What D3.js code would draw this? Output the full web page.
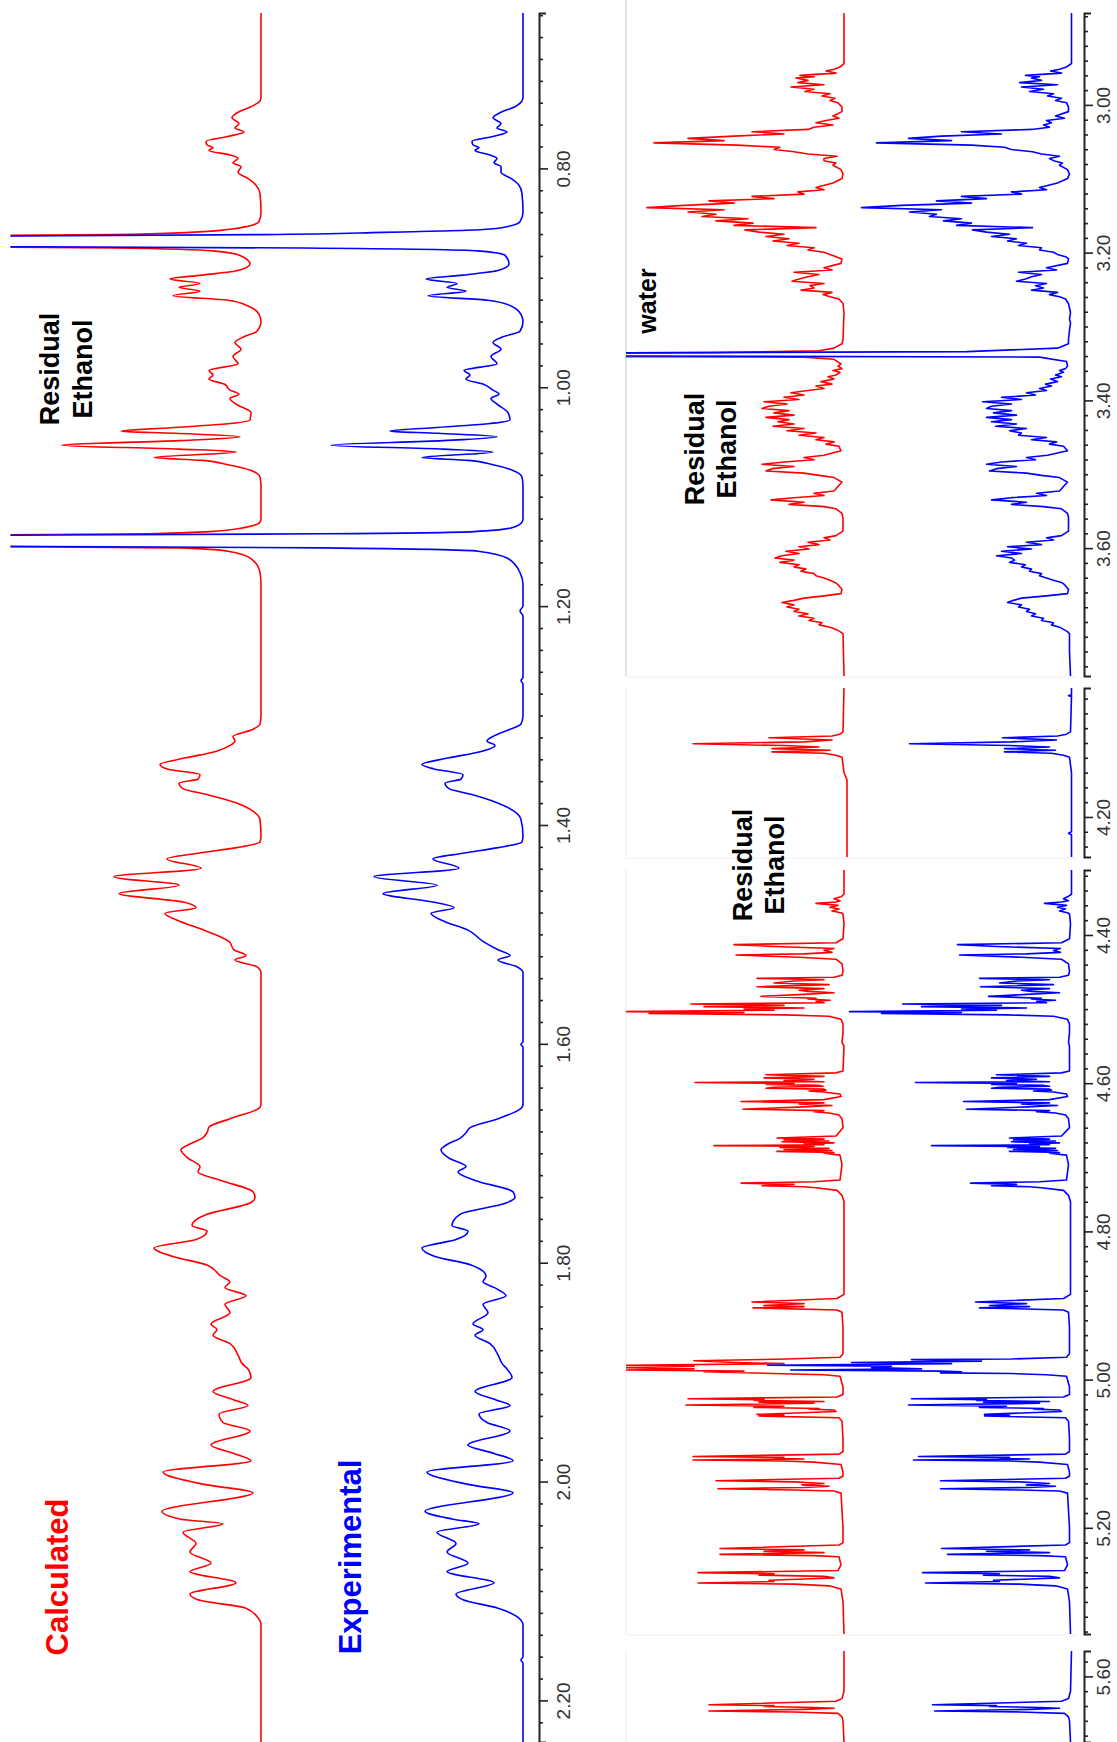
<!DOCTYPE html>
<html><head><meta charset="utf-8">
<script src="https://cdn.jsdelivr.net/npm/d3@7"></script>
<style>body{margin:0;background:#fff}svg{display:block}</style>
</head><body>
<svg id="c" width="1117" height="1742"></svg>
<script>
// ---------------- DATA (ppm, relative intensity) ----------------
const leftDomain = [0.658, 2.238];
const segDomains = [[2.8756, 3.7731], [4.0257, 4.2541], [4.3123, 5.3433], [5.5657, 5.6886]];
const leftTicks = [0.80, 1.00, 1.20, 1.40, 1.60, 1.80, 2.00, 2.20];
const segTicks = [[3.00, 3.20, 3.40, 3.60], [4.20], [4.40, 4.60, 4.80, 5.00, 5.20], [5.60]];
const seriesNames = ["Calculated", "Experimental"];
const annotations = ["Residual", "Ethanol", "water"];

const calcL = [[0.658,0],[0.735,0],[0.7384,1],[0.7436,10],[0.7487,23],[0.7538,29],[0.759,22],[0.7631,26],[0.7667,17],[0.7708,33],[0.7754,55],[0.7785,54],[0.781,48],[0.7836,52],[0.7877,31],[0.7908,23],[0.7949,28],[0.7985,20],[0.8036,23],[0.8092,13],[0.8154,5],[0.8231,1],[0.84,0],
[0.8487,2],[0.8528,13],[0.8559,33],[0.8585,71],[0.8605,147],[0.8626,450],[0.8646,900],[0.869,900],[0.8708,450],[0.8728,147],[0.8754,48],[0.8795,21],[0.8872,11],[0.8934,23],[0.8975,59],[0.9011,91],[0.9052,61],[0.9087,82],[0.9123,61],[0.9164,88],[0.9205,33],[0.9257,13],[0.9334,2],[0.94,0],
[0.9488,4],[0.9539,17],[0.959,26],[0.9652,20],[0.9718,28],[0.9785,23],[0.9847,52],[0.9888,48],[0.9924,52],[0.9975,36],[1.0026,31],[1.0062,22],[1.0103,31],[1.0154,25],[1.0231,10],[1.0298,11],[1.0334,33],[1.037,90],[1.0401,140],[1.0421,86],[1.0452,21],[1.0488,82],[1.0529,199],[1.0565,82],[1.0591,25],[1.0642,107],[1.0668,59],[1.0708,33],[1.076,10],[1.0821,1],[1.09,0],
[1.12,0],[1.1232,1],[1.1283,17],[1.1319,52],[1.1339,113],[1.136,450],[1.138,900],[1.1427,900],[1.1447,450],[1.1468,82],[1.1498,33],[1.1565,10],[1.1693,1],[1.18,0],
[1.30,0],[1.3078,1],[1.3129,9],[1.3191,28],[1.3232,26],[1.3273,31],[1.3335,48],[1.3386,75],[1.3448,101],[1.3488,94],[1.354,61],[1.3581,63],[1.3617,82],[1.3668,78],[1.372,55],[1.3797,25],[1.3874,8],[1.3951,1],[1.41,0],
[1.4155,1],[1.4207,24],[1.4258,63],[1.431,94],[1.4395,60],[1.4473,147],[1.455,82],[1.4627,142],[1.4704,78],[1.4756,65],[1.4807,96],[1.4884,80],[1.4961,57],[1.5064,32],[1.5141,27],[1.5193,15],[1.5234,26],[1.5296,4],[1.535,0],
[1.655,0],[1.6581,1],[1.6684,31],[1.6761,52],[1.6812,54],[1.6864,59],[1.6915,71],[1.6967,80],[1.7044,73],[1.7121,61],[1.7172,63],[1.7249,40],[1.7352,8],[1.7404,6],[1.7455,11],[1.7558,54],[1.7661,69],[1.7712,54],[1.7789,65],[1.7866,107],[1.7943,88],[1.8021,54],[1.8123,40],[1.8175,31],[1.8226,36],[1.8303,15],[1.838,36],[1.8458,31],[1.856,50],[1.8612,44],[1.8663,48],[1.874,31],[1.8843,23],[1.892,19],[1.8972,13],[1.9049,10],[1.9177,48],[1.9254,27],[1.9306,13],[1.9383,42],[1.946,38],[1.9537,11],[1.9666,50],[1.9743,27],[1.981,10],[1.9913,98],[2.0026,57],[2.0103,8],[2.0272,99],[2.0344,80],[2.0386,38],[2.0463,78],[2.0566,65],[2.0643,71],[2.0746,50],[2.0823,71],[2.0925,25],[2.1028,71],[2.108,63],[2.1157,15],[2.1234,4],[2.1311,0],[2.238,0]];

const expL = [[0.658,0],[0.735,0],[0.7384,1],[0.7436,8],[0.7487,22],[0.7538,30],[0.759,22],[0.7631,26],[0.7667,16],[0.7708,30],[0.7754,51],[0.7785,50],[0.781,44],[0.7836,48],[0.7877,33],[0.7908,26],[0.7949,29],[0.7985,22],[0.8036,22],[0.8092,12],[0.8154,4],[0.8231,1],[0.84,0],
[0.8487,3],[0.8528,14],[0.8559,40],[0.8585,140],[0.8605,260],[0.8626,700],[0.8646,1000],[0.869,1000],[0.8708,700],[0.8728,220],[0.8754,45],[0.8795,18],[0.8872,14],[0.8934,25],[0.8975,60],[0.9011,97],[0.9052,66],[0.9087,76],[0.9123,57],[0.9164,95],[0.9205,35],[0.9257,12],[0.9334,2],[0.94,0],
[0.9488,3],[0.9539,20],[0.959,30],[0.9652,22],[0.9718,32],[0.9785,26],[0.9847,59],[0.9888,53],[0.9924,57],[0.9975,39],[1.0026,30],[1.0062,24],[1.0103,32],[1.0154,26],[1.0231,15],[1.0298,13],[1.0334,35],[1.037,90],[1.0401,133],[1.0421,85],[1.0452,26],[1.0488,80],[1.0529,192],[1.0565,80],[1.0591,30],[1.0642,101],[1.0668,55],[1.0708,30],[1.076,10],[1.0821,1],[1.09,0],
[1.12,0],[1.1232,1],[1.1283,11],[1.1319,49],[1.1339,200],[1.136,700],[1.138,1000],[1.1427,1000],[1.1447,700],[1.1468,200],[1.1498,45],[1.1565,15],[1.1693,3],[1.18,0],[1.20,0],[1.2045,3],[1.209,0],[1.265,0],[1.268,2],[1.271,0],
[1.30,0],[1.3078,2],[1.3129,14],[1.3191,30],[1.3232,36],[1.3273,28],[1.3335,45],[1.3386,74],[1.3448,101],[1.3488,89],[1.354,60],[1.3581,62],[1.3617,78],[1.3668,74],[1.372,52],[1.3797,26],[1.3874,9],[1.3951,2],[1.41,0],
[1.4155,1],[1.4207,25],[1.4258,60],[1.431,90],[1.4395,64],[1.4473,149],[1.455,86],[1.4627,140],[1.4704,90],[1.4756,69],[1.4807,92],[1.4884,78],[1.4961,55],[1.5064,40],[1.5141,25],[1.5193,13],[1.5234,25],[1.5296,6],[1.535,0],[1.598,0],[1.6005,2],[1.603,0],
[1.655,0],[1.6581,1],[1.6684,25],[1.6761,52],[1.6812,57],[1.6864,63],[1.6915,75],[1.6967,82],[1.7044,74],[1.7121,57],[1.7172,65],[1.7249,48],[1.7352,10],[1.7404,8],[1.7455,17],[1.7558,63],[1.7661,71],[1.7712,55],[1.7789,67],[1.7866,101],[1.7943,88],[1.8021,52],[1.8123,37],[1.8175,40],[1.8226,29],[1.8303,17],[1.838,40],[1.8458,35],[1.856,50],[1.8612,40],[1.8663,48],[1.874,33],[1.8843,25],[1.892,21],[1.8972,16],[1.9049,11],[1.9177,48],[1.9254,27],[1.9306,13],[1.9383,44],[1.946,36],[1.9537,13],[1.9666,55],[1.9743,29],[1.981,10],[1.9913,96],[2.0026,55],[2.0103,10],[2.0272,98],[2.0344,70],[2.0386,44],[2.0463,86],[2.0566,67],[2.0643,76],[2.0746,55],[2.0823,76],[2.0925,29],[2.1028,67],[2.108,60],[2.1157,25],[2.1234,6],[2.1311,0],[2.16,0],[2.163,2],[2.166,0],[2.238,0]];

const calcS1 = [[2.8756,0],[2.944,0],[2.9486,4],[2.9517,10],[2.954,18],[2.957,8],[2.960,44],[2.962,30],[2.9637,48],[2.9668,36],[2.9698,46],[2.9728,20],[2.9758,53],[2.9789,30],[2.9819,39],[2.9849,14],[2.9879,22],[2.9909,9],[2.994,14],[2.997,6],[3.003,2],[3.0091,2],
[3.0151,11],[3.0181,5],[3.0211,18],[3.0242,28],[3.0272,11],[3.0302,30],[3.0332,36],[3.0363,92],[3.0393,60],[3.0423,110],[3.0453,156],[3.0483,120],[3.0514,190],[3.0544,107],[3.0574,64],[3.0604,70],[3.0634,50],[3.0665,36],[3.0695,7],[3.0725,20],[3.0755,20],[3.0786,8],[3.0816,11],[3.0876,3],[3.0937,1],[3.0997,2],
[3.1057,11],[3.1118,28],[3.1148,20],[3.1178,46],[3.1208,40],[3.1239,92],[3.1269,70],[3.1299,135],[3.133,110],[3.136,160],[3.139,197],[3.142,120],[3.145,156],[3.148,128],[3.151,142],[3.1541,96],[3.157,128],[3.1601,91],[3.1631,110],[3.1662,28],[3.1692,99],[3.1722,85],[3.1752,60],[3.1782,78],[3.1812,55],[3.1843,71],[3.1873,45],[3.1903,57],[3.1934,30],[3.1964,36],[3.1994,20],[3.2024,14],[3.2055,8],[3.2085,2],
[3.2145,3],[3.2205,20],[3.2236,12],[3.2266,50],[3.2296,25],[3.2326,36],[3.2357,45],[3.2387,52],[3.2417,20],[3.2447,34],[3.2478,30],[3.2508,43],[3.2538,12],[3.2568,21],[3.2598,14],[3.2628,5],[3.2689,1],[3.281,0],
[3.3172,1],[3.3233,2],[3.3293,10],[3.3329,25],[3.3353,135],[3.3371,600],[3.3395,600],[3.3414,40],[3.3444,10],[3.3505,3],
[3.3535,6],[3.357,2],[3.3596,11],[3.362,4],[3.3656,8],[3.368,16],[3.371,10],[3.3746,23],[3.378,12],[3.3806,28],[3.384,20],[3.3867,36],[3.3897,53],[3.3928,40],[3.3958,60],[3.3988,45],[3.4018,80],[3.4048,57],[3.4079,75],[3.4109,82],[3.4139,55],[3.4169,70],[3.4199,50],[3.423,78],[3.426,55],[3.429,66],[3.432,50],[3.435,71],[3.4381,40],[3.4411,57],[3.4441,28],[3.4472,45],[3.4502,20],[3.4532,28],[3.4562,10],[3.4592,18],[3.4622,5],[3.4683,3],
[3.4743,20],[3.4773,40],[3.4804,30],[3.4834,60],[3.4864,82],[3.4894,50],[3.4924,72],[3.4955,78],[3.4985,40],[3.5015,25],[3.5045,10],[3.5106,2],
[3.5227,10],[3.5257,30],[3.5287,20],[3.5317,50],[3.5347,73],[3.5378,40],[3.5408,55],[3.5438,20],[3.5468,8],[3.5529,2],[3.5589,1],[3.577,1],
[3.5831,8],[3.5861,20],[3.5891,14],[3.5921,36],[3.5952,25],[3.5982,45],[3.6012,35],[3.6042,58],[3.6073,45],[3.6103,62],[3.6133,69],[3.6163,50],[3.6193,64],[3.6224,45],[3.6254,50],[3.6284,38],[3.6314,43],[3.6345,30],[3.6375,28],[3.6405,20],[3.6435,14],[3.6465,9],[3.6495,6],[3.6556,2],[3.6616,3],
[3.6646,20],[3.6677,40],[3.6707,50],[3.6737,62],[3.6768,50],[3.6798,57],[3.6828,45],[3.6858,50],[3.6888,36],[3.6918,45],[3.6949,30],[3.6979,35],[3.7009,22],[3.7039,25],[3.707,14],[3.71,8],[3.713,4],[3.716,1],[3.7731,0]];

const expS1 = [[2.8756,0],[2.944,0],[2.9486,5],[2.9517,12],[2.954,21],[2.957,10],[2.960,46],[2.962,32],[2.9637,40],[2.9668,30],[2.9698,52],[2.9728,14],[2.9758,50],[2.9789,28],[2.9819,42],[2.9849,18],[2.9879,24],[2.9909,10],[2.994,16],[2.997,5],[3.003,3],[3.0091,3],
[3.0151,16],[3.0181,7],[3.0211,25],[3.0242,20],[3.0272,28],[3.0302,22],[3.0332,40],[3.0363,110],[3.0393,70],[3.0423,130],[3.0453,163],[3.0483,120],[3.0514,195],[3.0544,100],[3.0574,67],[3.0604,60],[3.0634,39],[3.0665,30],[3.0695,12],[3.0725,22],[3.0755,18],[3.0786,9],[3.0816,12],[3.0876,4],[3.0937,2],[3.0997,4],
[3.1057,14],[3.1118,32],[3.1148,25],[3.1178,60],[3.1208,50],[3.1239,110],[3.1269,85],[3.1299,135],[3.133,100],[3.136,170],[3.139,210],[3.142,130],[3.145,162],[3.148,135],[3.151,142],[3.1541,110],[3.157,128],[3.1601,100],[3.1631,115],[3.1662,39],[3.1692,99],[3.1722,85],[3.1752,62],[3.1782,80],[3.1812,55],[3.1843,64],[3.1873,45],[3.1903,53],[3.1934,30],[3.1964,32],[3.1994,18],[3.2024,14],[3.2055,6],[3.2085,3],
[3.2145,4],[3.2205,25],[3.2236,15],[3.2266,53],[3.2296,30],[3.2326,40],[3.2357,46],[3.2387,55],[3.2417,25],[3.2447,36],[3.2478,28],[3.2508,40],[3.2538,14],[3.2568,22],[3.2598,12],[3.2628,6],[3.2689,3],[3.281,1],[3.29,2],[3.295,1],[3.305,2],
[3.3172,3],[3.3233,3],[3.3293,14],[3.334,105],[3.3365,600],[3.3395,600],[3.3414,32],[3.3474,5],
[3.3535,4],[3.357,6],[3.3596,12],[3.362,8],[3.3656,16],[3.368,10],[3.371,21],[3.3746,14],[3.378,26],[3.3806,20],[3.384,32],[3.3867,25],[3.3897,45],[3.3928,36],[3.3958,70],[3.3988,50],[3.4018,89],[3.4048,60],[3.4079,80],[3.4109,85],[3.4139,60],[3.4169,78],[3.4199,55],[3.423,85],[3.426,60],[3.429,80],[3.432,55],[3.435,76],[3.4381,45],[3.4411,62],[3.4441,50],[3.4472,53],[3.4502,25],[3.4532,40],[3.4562,15],[3.4592,22],[3.4622,8],[3.4683,4],
[3.4743,24],[3.4773,45],[3.4804,36],[3.4834,70],[3.4864,85],[3.4894,55],[3.4924,75],[3.4955,82],[3.4985,45],[3.5015,30],[3.5045,12],[3.5106,4],
[3.5227,12],[3.5257,35],[3.5287,25],[3.5317,60],[3.5347,80],[3.5378,45],[3.5408,60],[3.5438,28],[3.5468,10],[3.5529,4],[3.5589,3],[3.577,3],
[3.5831,10],[3.5861,25],[3.5891,18],[3.5921,45],[3.5952,30],[3.5982,64],[3.6012,40],[3.6042,70],[3.6073,50],[3.6103,75],[3.6133,60],[3.6163,57],[3.6193,62],[3.6224,46],[3.6254,50],[3.6284,40],[3.6314,42],[3.6345,30],[3.6375,32],[3.6405,25],[3.6435,18],[3.6465,10],[3.6495,7],[3.6556,3],[3.6616,4],
[3.6646,25],[3.6677,50],[3.6707,58],[3.6737,64],[3.6768,50],[3.6798,53],[3.6828,42],[3.6858,45],[3.6888,36],[3.6918,40],[3.6949,28],[3.6979,30],[3.7009,18],[3.7039,20],[3.707,12],[3.71,8],[3.713,4],[3.716,2],[3.74,2],[3.7731,1]];

const calcS2 = [[4.0257,0],[4.085,1],[4.0881,4],[4.0905,12],[4.093,75],[4.096,12],[4.0985,40],[4.1011,151],[4.1035,60],[4.1055,25],[4.1077,72],[4.1098,14],[4.112,72],[4.1139,20],[4.1165,8],[4.1192,2],[4.14,0],[4.15,-3],[4.2541,-3]];
const expS2 = [[4.0257,0],[4.035,0],[4.036,3],[4.037,0],[4.085,1],[4.0881,5],[4.0905,14],[4.093,69],[4.096,15],[4.0985,60],[4.1011,162],[4.1035,62],[4.1055,22],[4.1077,67],[4.1098,16],[4.112,67],[4.1139,20],[4.1165,8],[4.1192,2],[4.14,0],[4.22,0],[4.222,3],[4.224,0],[4.2541,0]];

const calcS3 = [[4.3123,0],[4.345,0],[4.3485,3],[4.351,10],[4.3537,4],[4.3555,8],[4.3573,28],[4.36,6],[4.3625,14],[4.365,5],[4.3676,12],[4.37,3],[4.3717,1],[4.385,0],[4.405,1],
[4.4105,8],[4.413,110],[4.4156,70],[4.4182,10],[4.4208,20],[4.4234,12],[4.4255,40],[4.427,108],[4.4301,45],[4.4327,8],[4.4389,2],[4.4492,1],[4.4544,2],
[4.457,10],[4.4585,87],[4.4605,20],[4.4621,50],[4.4647,70],[4.467,15],[4.4699,87],[4.4724,20],[4.4745,45],[4.4761,36],[4.478,10],[4.4802,40],[4.4828,83],[4.4854,28],[4.4864,36],[4.488,14],[4.4895,28],[4.4915,20],[4.4931,153],[4.495,60],[4.4967,140],[4.4985,40],[4.4998,100],[4.5015,70],[4.5034,220],[4.5047,100],[4.506,195],[4.5078,60],[4.5096,15],[4.5138,3],[4.52,1],[4.5318,1],[4.545,2],[4.55,0],[4.5835,1],
[4.5861,8],[4.5887,78],[4.5908,20],[4.5928,80],[4.5946,30],[4.5964,60],[4.598,20],[4.599,149],[4.6005,50],[4.6016,78],[4.603,25],[4.6042,21],[4.6055,70],[4.6068,78],[4.608,20],[4.6094,18],[4.6106,35],[4.6119,21],[4.6145,4],[4.618,3],
[4.6222,20],[4.6248,103],[4.6265,20],[4.628,45],[4.63,12],[4.632,40],[4.6351,101],[4.637,20],[4.6385,30],[4.6403,15],[4.6429,5],[4.648,2],[4.66,1],
[4.6713,8],[4.6739,67],[4.6755,20],[4.6765,60],[4.678,15],[4.6791,62],[4.6805,10],[4.6816,40],[4.683,20],[4.6842,130],[4.6855,30],[4.6868,64],[4.688,15],[4.6894,60],[4.6908,12],[4.692,67],[4.6935,10],[4.6946,20],[4.6971,4],[4.71,2],
[4.7307,4],[4.733,30],[4.7348,103],[4.7366,50],[4.7384,82],[4.7397,40],[4.741,28],[4.7446,7],[4.7513,2],[4.76,0],[4.885,0],
[4.8906,7],[4.8952,92],[4.8975,40],[4.8999,80],[4.9015,40],[4.9032,91],[4.906,7],[4.9092,2],[4.93,1],[4.965,1],[4.9699,4],
[4.9722,57],[4.9745,150],[4.9769,110],[4.9785,60],[4.9806,220],[4.982,150],[4.9839,222],[4.9855,150],[4.9871,220],[4.9885,100],[4.9895,140],[4.9918,71],[4.9935,20],[4.9955,4],[5.01,1],[5.02,1],
[5.0235,7],[5.0258,156],[5.027,80],[5.0282,90],[5.0295,20],[5.0305,85],[5.032,30],[5.0343,158],[5.036,60],[5.0375,90],[5.039,25],[5.0399,35],[5.041,10],[5.0431,8],[5.0469,87],[5.048,60],[5.0492,85],[5.0515,5],[5.0562,2],[5.08,1],[5.097,1],
[5.1005,5],[5.1038,151],[5.105,60],[5.1061,70],[5.1072,40],[5.1084,151],[5.1098,60],[5.1113,30],[5.1145,3],[5.125,1],[5.13,1],
[5.1332,5],[5.1364,128],[5.138,50],[5.1402,20],[5.142,42],[5.1439,15],[5.1455,40],[5.1472,126],[5.149,50],[5.1504,10],[5.1532,3],[5.20,1],[5.22,1],
[5.2232,5],[5.2279,124],[5.2298,40],[5.2316,80],[5.2335,20],[5.2358,124],[5.2375,30],[5.2391,5],[5.25,3],
[5.2577,6],[5.2605,146],[5.262,70],[5.2638,85],[5.2655,20],[5.2675,10],[5.269,40],[5.2708,75],[5.2725,70],[5.2745,146],[5.276,50],[5.2783,15],[5.2825,3],[5.30,1],[5.3433,0]];

const expS3 = [[4.3123,0],[4.345,0],[4.3485,4],[4.351,8],[4.3537,3],[4.3555,10],[4.3573,27],[4.36,5],[4.3625,14],[4.365,6],[4.3676,12],[4.37,4],[4.3717,2],[4.385,1],[4.405,2],
[4.4105,10],[4.413,114],[4.4156,75],[4.4182,11],[4.4208,18],[4.4234,11],[4.4255,45],[4.427,112],[4.4301,50],[4.4327,10],[4.4389,3],[4.4492,2],[4.4544,3],
[4.457,12],[4.4585,92],[4.4605,22],[4.4621,55],[4.4647,72],[4.467,18],[4.4699,91],[4.4724,22],[4.4745,50],[4.4761,40],[4.478,12],[4.4802,45],[4.4828,83],[4.4854,30],[4.4864,40],[4.488,16],[4.4895,35],[4.4915,25],[4.4931,169],[4.495,70],[4.4967,150],[4.4985,45],[4.4998,110],[4.5015,75],[4.5034,222],[4.5047,110],[4.506,190],[4.5078,65],[4.5096,18],[4.5138,4],[4.52,2],[4.5318,2],[4.545,3],[4.55,2],[4.5835,2],
[4.5861,10],[4.5887,75],[4.5908,22],[4.5928,80],[4.5946,35],[4.5964,65],[4.598,22],[4.599,156],[4.6005,55],[4.6016,80],[4.603,28],[4.6042,22],[4.6055,72],[4.6068,80],[4.608,22],[4.6094,20],[4.6106,38],[4.6119,18],[4.6145,5],[4.618,4],
[4.6222,22],[4.6248,108],[4.6265,22],[4.628,50],[4.63,14],[4.632,45],[4.6351,105],[4.637,22],[4.6385,35],[4.6403,16],[4.6429,6],[4.648,3],[4.66,2],
[4.6713,10],[4.6739,62],[4.6755,22],[4.6765,58],[4.678,16],[4.6791,60],[4.6805,12],[4.6816,42],[4.683,22],[4.6842,140],[4.6855,32],[4.6868,64],[4.688,16],[4.6894,58],[4.6908,14],[4.692,62],[4.6935,12],[4.6946,22],[4.6971,5],[4.71,3],
[4.7307,5],[4.733,32],[4.7348,101],[4.7366,55],[4.7384,80],[4.7397,42],[4.741,30],[4.7446,8],[4.7513,3],[4.76,1],[4.885,1],
[4.8906,8],[4.8952,96],[4.8975,45],[4.8999,82],[4.9015,42],[4.9032,92],[4.906,8],[4.9092,3],[4.93,2],[4.965,2],[4.9699,5],
[4.9722,60],[4.9731,160],[4.975,90],[4.9769,220],[4.9785,120],[4.9806,304],[4.982,180],[4.9839,200],[4.9855,150],[4.9871,281],[4.9885,131],[4.9895,110],[4.9909,131],[4.9918,60],[4.9935,25],[4.9955,5],[5.01,2],[5.02,2],
[5.0235,8],[5.0258,160],[5.027,85],[5.0282,95],[5.0295,22],[5.0305,88],[5.032,32],[5.0343,163],[5.036,65],[5.0375,92],[5.039,28],[5.0399,38],[5.041,12],[5.0431,10],[5.0469,87],[5.048,62],[5.0492,87],[5.0515,6],[5.0562,3],[5.08,2],[5.097,2],
[5.1005,6],[5.1038,153],[5.105,62],[5.1061,72],[5.1072,42],[5.1084,158],[5.1098,62],[5.1113,32],[5.1145,4],[5.125,2],[5.13,2],
[5.1332,6],[5.1364,131],[5.138,52],[5.1402,22],[5.142,45],[5.1439,16],[5.1455,42],[5.1472,131],[5.149,52],[5.1504,12],[5.1532,4],[5.20,2],[5.22,2],
[5.2232,6],[5.2279,130],[5.2298,42],[5.2316,85],[5.2335,22],[5.2358,124],[5.2375,32],[5.2391,6],[5.25,4],
[5.2577,7],[5.2605,149],[5.262,72],[5.2638,88],[5.2655,22],[5.2675,12],[5.269,42],[5.2708,78],[5.2725,72],[5.2745,146],[5.276,52],[5.2783,16],[5.2825,4],[5.30,2],[5.3433,1]];

const calcS4 = [[5.5657,0],[5.62,0],[5.63,2],[5.6336,8],[5.6383,135],[5.6395,70],[5.6406,80],[5.642,30],[5.643,10],[5.6445,40],[5.6467,135],[5.648,50],[5.65,6],[5.6547,2],[5.66,1],[5.6886,0]];
const expS4 = [[5.5657,0],[5.62,1],[5.63,3],[5.6336,10],[5.6383,139],[5.6395,75],[5.6406,82],[5.642,32],[5.643,12],[5.6445,42],[5.6467,137],[5.648,52],[5.65,7],[5.6547,3],[5.66,2],[5.6886,1]];

// ---------------- LAYOUT ----------------
const svg = d3.select('#c');
const FONT = 'Arial, "Liberation Sans", sans-serif';
const RED = '#ff0000', BLUE = '#0000ff';
const left = {top: 13, bottom: 1742, clipX: 10.5, axisX: 539, base: [261, 523]};
const right = {clipX: 626, axisX: 1084, base: [844, 1071.5],
  seg: [[13, 676], [688, 857], [870, 1634], [1651, 1742]]};

const defs = svg.append('defs');
defs.append('clipPath').attr('id', 'clipL').append('rect')
  .attr('x', left.clipX).attr('y', 0).attr('width', left.axisX - left.clipX).attr('height', 1742);
defs.append('clipPath').attr('id', 'clipR').append('rect')
  .attr('x', right.clipX).attr('y', 0).attr('width', right.axisX - right.clipX).attr('height', 1742);

// faint frames of the right-hand pasted segments
right.seg.forEach(([y0, y1], i) => {
  svg.append('line').attr('x1', right.clipX).attr('x2', right.clipX).attr('y1', i === 0 ? 0 : y0).attr('y2', y1)
    .attr('stroke', i === 0 ? '#d4d4d4' : '#ececec').attr('stroke-width', 1.2);
  if (i < right.seg.length - 1) {
    svg.append('line').attr('x1', right.clipX).attr('x2', right.axisX - 8).attr('y1', y1 + 1).attr('y2', y1 + 1)
      .attr('stroke', '#eeeeee').attr('stroke-width', 1);
  }
});

function trace(clipId, data, yS, base, color, curve) {
  const xS = d3.scaleLinear().domain([0, 100]).range([base, base - 100]);
  const line = d3.line().x(d => xS(d[1])).y(d => yS(d[0])).curve(curve);
  svg.append('path').attr('clip-path', `url(#${clipId})`).datum(data)
    .attr('d', line).attr('fill', 'none').attr('stroke', color)
    .attr('stroke-width', 1.6).attr('stroke-linejoin', 'round');
}

function axis(yS, x, major, labelDist) {
  const [d0, d1] = yS.domain();
  const minor = d3.range(Math.ceil(d0 * 50 - 1e-6), Math.floor(d1 * 50 + 1e-6) + 1).map(i => i / 50)
    .filter(v => !major.some(m => Math.abs(m - v) < 1e-6));
  const gm = svg.append('g').attr('transform', `translate(${x},0)`).attr('color', '#222');
  gm.call(d3.axisRight(yS).tickValues(minor).tickSize(4).tickSizeOuter(7).tickFormat(''));
  gm.select('.domain').attr('stroke-width', 2);
  gm.selectAll('.tick line').attr('stroke-width', 1.6);
  const gM = svg.append('g').attr('transform', `translate(${x},0)`).attr('color', '#222');
  gM.call(d3.axisRight(yS).tickValues(major).tickSize(9).tickSizeOuter(0).tickFormat(d3.format('.2f')));
  gM.select('.domain').remove();
  gM.selectAll('.tick line').attr('stroke-width', 1.6);
  gM.selectAll('.tick text').attr('transform', 'rotate(-90)').attr('x', 0).attr('y', labelDist)
    .attr('dy', '0.36em').attr('text-anchor', 'middle')
    .attr('font-family', FONT).attr('font-size', 19).attr('fill', '#333');
}

// left panel
const yL = d3.scaleLinear().domain(leftDomain).range([left.top, left.bottom]);
trace('clipL', calcL, yL, left.base[0], RED, d3.curveMonotoneY);
trace('clipL', expL, yL, left.base[1], BLUE, d3.curveMonotoneY);
axis(yL, left.axisX, leftTicks, 24);

// right panel segments
const calcR = [calcS1, calcS2, calcS3, calcS4];
const expR = [expS1, expS2, expS3, expS4];
segDomains.forEach((dom, i) => {
  const yS = d3.scaleLinear().domain(dom).range(right.seg[i]);
  trace('clipR', calcR[i], yS, right.base[0], RED, d3.curveLinear);
  trace('clipR', expR[i], yS, right.base[1], BLUE, d3.curveLinear);
  axis(yS, right.axisX, segTicks[i], 19);
});

// labels
function rotText(txt, x, y, size, color) {
  svg.append('text').text(txt).attr('transform', `translate(${x},${y}) rotate(-90)`)
    .attr('text-anchor', 'middle').attr('font-family', FONT).attr('font-weight', 'bold')
    .attr('font-size', size).attr('fill', color);
}
rotText(seriesNames[0], 68, 1577, 31, RED);
rotText(seriesNames[1], 361, 1557, 31, BLUE);
rotText(annotations[0], 59, 369, 27, '#000');
rotText(annotations[1], 92, 369, 27, '#000');
rotText(annotations[2], 656, 301, 25, '#000');
rotText(annotations[0], 704, 449, 27, '#000');
rotText(annotations[1], 736, 449, 27, '#000');
rotText(annotations[0], 752, 865, 27, '#000');
rotText(annotations[1], 784, 865, 27, '#000');
</script>
</body></html>
